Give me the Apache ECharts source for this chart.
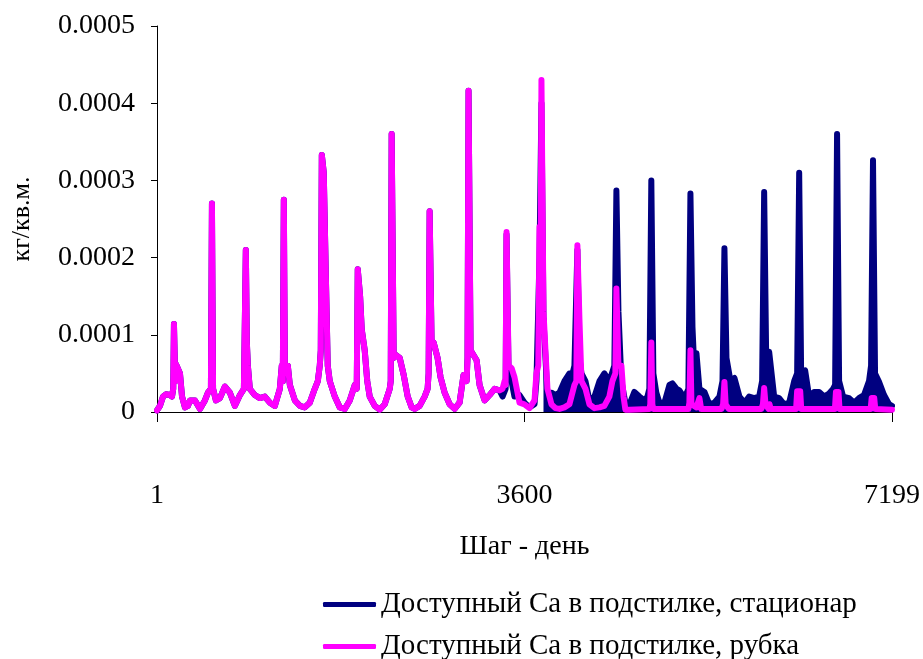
<!DOCTYPE html>
<html>
<head>
<meta charset="utf-8">
<script src="https://cdn.jsdelivr.net/npm/echarts@6/dist/echarts.min.js"></script>
<style>
  html, body { margin: 0; padding: 0; background: #fff; }
  #chart { width: 923px; height: 659px; }
</style>
</head>
<body>
<div id="chart"></div>
<script>
// шаг (день) и доступный Ca, кг/кв.м. — первые годы одинаковы для обоих вариантов
const sharedYears = [
  [1, 0.000002], [30, 0.000008], [60, 0.00002], [89, 0.000023], [128, 0.000022], [148, 0.00002],
  [160, 0.00003], [167, 0.000114], [180, 0.00004], [187, 0.000062], [206, 0.00006], [226, 0.00005],
  [246, 0.00002], [275, 0.000006], [304, 0.000008], [324, 0.000015], [373, 0.000015], [422, 0.000004],
  [470, 0.000015], [500, 0.000025],
  [529, 0.00003], [539, 0.00027], [550, 0.00003], [578, 0.000015], [617, 0.000018], [666, 0.000033],
  [715, 0.000025], [764, 0.000008], [813, 0.000022], [852, 0.00003],
  [862, 0.00003], [871, 0.00021], [881, 0.00009], [891, 0.00006], [910, 0.00003], [959, 0.000022],
  [1008, 0.000018], [1057, 0.00002], [1106, 0.000012], [1155, 0.000008], [1204, 0.00003],
  [1223, 0.00006], [1233, 0.00004], [1243, 0.000275], [1253, 0.00006], [1263, 0.00006], [1282, 0.00006],
  [1302, 0.000035], [1351, 0.000015], [1400, 0.000008], [1448, 0.000006], [1497, 0.000012],
  [1546, 0.00003], [1576, 0.00004],
  [1595, 0.00006], [1605, 0.00008], [1615, 0.000333], [1634, 0.00031], [1654, 0.00018], [1673, 0.00006],
  [1693, 0.00004], [1742, 0.00002], [1791, 0.000006], [1840, 0.000004], [1889, 0.000015], [1938, 0.000035],
  [1957, 0.00003], [1967, 0.000185], [1990, 0.00015], [2006, 0.000107], [2035, 0.00008], [2060, 0.00004],
  [2084, 0.00002], [2133, 0.000008], [2182, 0.000003], [2231, 0.00001], [2280, 0.00003],
  [2290, 0.00004], [2299, 0.00036], [2319, 0.00007], [2338, 0.000074], [2378, 0.00007], [2417, 0.000048],
  [2456, 0.00002], [2495, 0.000006], [2524, 0.000004], [2573, 0.000008], [2622, 0.00002], [2651, 0.00003],
  [2661, 0.00005], [2671, 0.00026], [2690, 0.00009], [2710, 0.00009], [2749, 0.00007], [2778, 0.000045],
  [2818, 0.000025], [2867, 0.00001], [2916, 0.000004], [2964, 0.000012], [3003, 0.000048], [3033, 0.00004],
  [3042, 0.00007], [3052, 0.000416], [3072, 0.00008], [3131, 0.000067], [3160, 0.000035], [3209, 0.000015],
  [3258, 0.000022], [3307, 0.00003], [3356, 0.000028]
];

// рубка
const cutLater = [
  [3385, 0.00003], [3405, 0.00004],
  [3415, 0.000035], [3424, 0.000233], [3444, 0.00006], [3473, 0.000057], [3502, 0.000045], [3551, 0.000012],
  [3600, 0.00001], [3649, 0.000005], [3698, 0.000015], [3717, 0.00005],
  [3735, 0.00006], [3747, 0.00024], [3756, 0.00013], [3766, 0.00043], [3786, 0.00013], [3805, 0.00008],
  [3825, 0.00003], [3864, 0.00001], [3903, 0.000005], [3942, 0.000004], [3991, 0.000006], [4040, 0.00001],
  [4089, 0.000035], [4108, 0.00004],
  [4118, 0.000216], [4138, 0.00012], [4158, 0.00004], [4197, 0.00003], [4236, 0.00001], [4285, 0.000005],
  [4334, 0.000006], [4382, 0.000008], [4431, 0.00002], [4461, 0.00004],
  [4490, 0.00005], [4500, 0.00016], [4520, 0.00006], [4549, 0.00006], [4570, 0.00002], [4588, 0.000003],
  [4628, 0.000003], [4823, 0.000004], [4832, 0.00001], [4842, 0.00009], [4852, 0.00001], [4862, 0.000004],
  [5205, 0.000004], [5215, 0.000012], [5225, 0.00008], [5235, 0.00001], [5284, 0.000006], [5313, 0.000018],
  [5330, 0.000004], [5530, 0.000004], [5545, 0.00001], [5558, 0.000039], [5570, 0.00001], [5600, 0.000004],
  [5920, 0.000004], [5935, 0.00001], [5947, 0.000031], [5960, 0.00001], [5990, 0.000004], [6000, 0.00001],
  [6010, 0.000004], [6260, 0.000004], [6270, 0.000027], [6300, 0.000027], [6310, 0.000004],
  [6640, 0.000004], [6650, 0.000026], [6675, 0.000026], [6685, 0.000004],
  [6990, 0.000004], [7000, 0.000018], [7025, 0.000018], [7035, 0.000004], [7199, 0.000003]
];

// стационар, до сплошной полосы
const standLaterEarly = [
  [3356, 0.000028], [3385, 0.00002], [3415, 0.00003], [3424, 0.00023], [3444, 0.00005], [3473, 0.00004],
  [3502, 0.00002], [3551, 0.000022], [3600, 0.000012], [3649, 0.000006], [3698, 0.00001], [3717, 0.00004],
  [3747, 0.0002], [3766, 0.0004], [3786, 0.00012]
];

// стационар, ежедневные колебания сливаются в сплошную полосу
const standLaterBand = [
  [3786, 0.00012], [3825, 0.00002], [3864, 0.000025], [3903, 0.000022], [3942, 0.000025],
  [3991, 0.00004], [4040, 0.00005], [4070, 0.00005], [4089, 0.00006], [4118, 0.00021], [4138, 0.00007],
  [4158, 0.00005], [4197, 0.00004], [4236, 0.000015], [4285, 0.00002], [4334, 0.00004], [4382, 0.00005],
  [4431, 0.00004], [4480, 0.00006], [4500, 0.000287], [4520, 0.00013], [4549, 0.00004], [4588, 0.000012],
  [4628, 0.00001], [4676, 0.000026], [4725, 0.00002], [4774, 0.000015], [4804, 0.00002], [4823, 0.00003],
  [4842, 0.0003], [4862, 0.00005], [4891, 0.000025], [4921, 0.000012], [4970, 0.000012], [5019, 0.000035],
  [5048, 0.000037], [5090, 0.00003], [5117, 0.000028], [5166, 0.000018], [5205, 0.00003], [5225, 0.000283],
  [5245, 0.00011], [5265, 0.00005], [5284, 0.000076], [5313, 0.00003], [5362, 0.000026], [5411, 0.00001],
  [5460, 0.000012], [5509, 0.00002], [5539, 0.00004], [5558, 0.000212], [5578, 0.00007], [5617, 0.00004],
  [5656, 0.000044], [5705, 0.00002], [5754, 0.000012], [5800, 0.00002], [5849, 0.000018], [5898, 0.00002],
  [5927, 0.00004], [5947, 0.000285], [5966, 0.00008], [5985, 0.00005], [5996, 0.000078], [6045, 0.00002],
  [6094, 0.000018], [6143, 0.00001], [6192, 0.000012], [6241, 0.00004], [6270, 0.00005], [6290, 0.00031],
  [6309, 0.00005], [6348, 0.000054], [6387, 0.00002], [6436, 0.000026], [6485, 0.000026], [6534, 0.00002],
  [6583, 0.000024], [6622, 0.00003], [6642, 0.000035], [6661, 0.00036], [6681, 0.00004], [6720, 0.00002],
  [6779, 0.000018], [6828, 0.000012], [6876, 0.000018], [6925, 0.000022], [6974, 0.00004], [6994, 0.00006],
  [7013, 0.000326], [7033, 0.00005], [7072, 0.000039], [7121, 0.000022], [7170, 0.00001], [7199, 0.000008]
];

const xTicks = [1, 3600, 7199];
const seriesNames = ['Доступный Са в подстилке, стационар', 'Доступный Са в подстилке, рубка'];

const font = "'Liberation Serif', 'Times New Roman', serif";
const navy = '#000080';
const magenta = '#FF00FF';
const chart = echarts.init(document.getElementById('chart'));

const lineSeries = (name, data, color, filled) => ({
  name: name,
  type: 'line',
  data: data,
  symbol: 'none',
  sampling: null,
  itemStyle: { color: color },
  lineStyle: { color: color, width: 6, cap: 'round', join: 'round' },
  areaStyle: filled ? { color: color, opacity: 1 } : null
});

const legendBox = (name, top) => ({
  orient: 'vertical',
  left: 318,
  top: top,
  itemWidth: 53,
  itemHeight: 5,
  icon: 'roundRect',
  textStyle: { fontFamily: font, fontSize: 29, color: '#000' },
  data: [name]
});

chart.setOption({
  animation: false,
  textStyle: { fontFamily: font },
  grid: { left: 157, right: 30, top: 26, bottom: 247, containLabel: false },
  legend: [legendBox(seriesNames[0], 585), legendBox(seriesNames[1], 627)],
  xAxis: {
    type: 'value',
    min: 1,
    max: 7199,
    name: 'Шаг - день',
    nameLocation: 'middle',
    nameGap: 121,
    nameTextStyle: { fontFamily: font, fontSize: 28, color: '#000' },
    axisLine: { lineStyle: { color: '#000', width: 1 } },
    axisTick: { show: true, length: 10, customValues: xTicks, lineStyle: { color: '#000' } },
    axisLabel: {
      customValues: xTicks,
      margin: 70,
      fontFamily: font,
      fontSize: 28,
      color: '#000',
      formatter: v => String(v)
    },
    splitLine: { show: false }
  },
  yAxis: {
    type: 'value',
    min: 0,
    max: 0.0005,
    interval: 0.0001,
    name: 'кг/кв.м.',
    nameLocation: 'middle',
    nameGap: 122,
    nameRotate: 90,
    nameTextStyle: { fontFamily: font, fontSize: 26, color: '#000' },
    axisLine: { show: true, lineStyle: { color: '#000', width: 1 } },
    axisTick: { show: true, length: 6, lineStyle: { color: '#000' } },
    axisLabel: {
      margin: 22,
      fontFamily: font,
      fontSize: 28,
      color: '#000',
      formatter: v => (v === 0 ? '0' : v.toFixed(4))
    },
    splitLine: { show: false }
  },
  series: [
    lineSeries(seriesNames[0], sharedYears, navy, false),
    lineSeries(seriesNames[0], standLaterEarly, navy, false),
    lineSeries(seriesNames[0], standLaterBand, navy, true),
    lineSeries(seriesNames[1], sharedYears.concat(cutLater), magenta, false)
  ]
});
</script>
</body>
</html>
